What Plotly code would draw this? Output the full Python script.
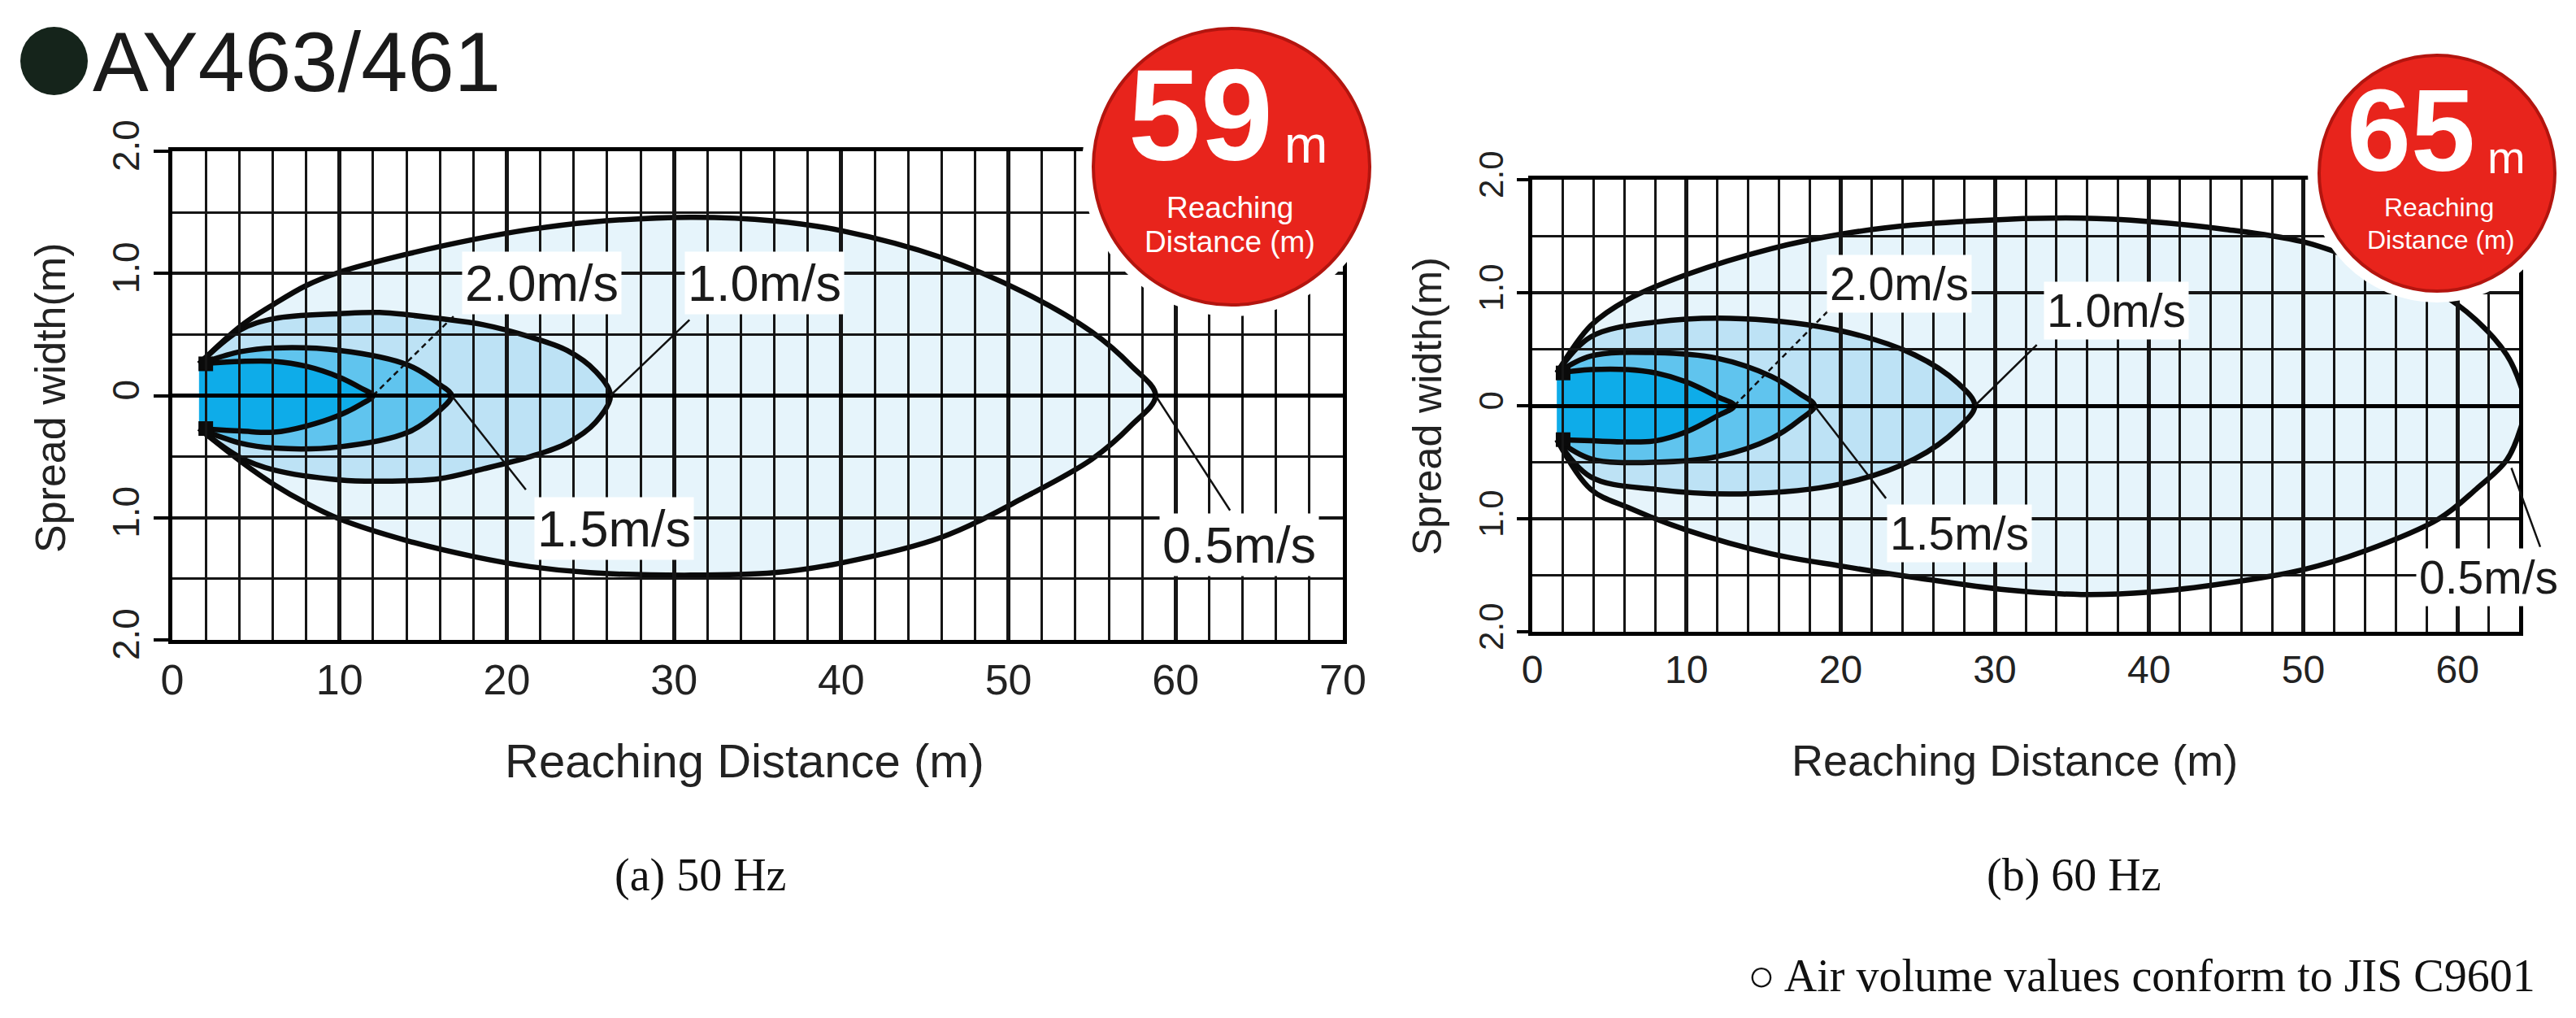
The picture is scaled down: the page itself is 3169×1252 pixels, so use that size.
import plotly.graph_objects as go

W, H = 3169, 1252
SANS = "Liberation Sans, Arial, sans-serif"
SERIF = "Liberation Serif, Times New Roman, serif"

# ---------------- data ----------------
speeds = ["2.0m/s", "1.5m/s", "1.0m/s", "0.5m/s"]
fill_colors = ["#0eace9", "#60c4ee", "#bde2f5", "#e6f4fb"]
reach = [59, 65]

# (a) 50 Hz : x positions, upper edge, lower edge of each velocity contour
hz50_x_20 = [1.6, 4.1, 6.1, 8.0, 10.0, 11.3, 12.0]
hz50_up_20 = [0.26, 0.28, 0.28, 0.24, 0.15, 0.06, 0.0]
hz50_lo_20 = [-0.27, -0.29, -0.30, -0.25, -0.16, -0.07, 0.0]

hz50_x_15 = [1.6, 4.1, 6.1, 10.0, 14.1, 16.0, 16.7]
hz50_up_15 = [0.26, 0.36, 0.39, 0.37, 0.25, 0.09, 0.0]
hz50_lo_15 = [-0.27, -0.39, -0.43, -0.42, -0.30, -0.12, 0.0]

hz50_x_10 = [1.6, 4.1, 6.1, 10.0, 12.4, 16.0, 18.6, 21.4, 23.6, 25.3, 26.2]
hz50_up_10 = [0.26, 0.54, 0.63, 0.67, 0.68, 0.63, 0.58, 0.48, 0.37, 0.20, 0.0]
hz50_lo_10 = [-0.27, -0.51, -0.61, -0.69, -0.70, -0.68, -0.60, -0.50, -0.39, -0.22, 0.0]

hz50_x_05 = [1.6, 4.1, 6.1, 8.0, 10.0, 14.1, 18.1, 21.4, 25.0, 31.0, 36.0, 40.0, 46.0, 51.0, 55.0, 57.3, 58.8]
hz50_up_05 = [0.26, 0.57, 0.75, 0.90, 1.01, 1.16, 1.28, 1.36, 1.42, 1.46, 1.43, 1.35, 1.13, 0.84, 0.52, 0.25, 0.0]
hz50_lo_05 = [-0.27, -0.54, -0.73, -0.88, -1.01, -1.19, -1.32, -1.40, -1.45, -1.47, -1.45, -1.37, -1.16, -0.83, -0.52, -0.25, 0.0]

# (b) 60 Hz
hz60_x_20 = [1.6, 3.8, 6.2, 8.0, 10.0, 12.0, 13.1]
hz60_up_20 = [0.29, 0.32, 0.32, 0.29, 0.21, 0.08, 0.0]
hz60_lo_20 = [-0.30, -0.31, -0.32, -0.31, -0.23, -0.09, 0.0]

hz60_x_15 = [1.6, 3.8, 8.0, 12.0, 15.5, 17.3, 18.3]
hz60_up_15 = [0.29, 0.44, 0.47, 0.42, 0.26, 0.11, 0.0]
hz60_lo_15 = [-0.30, -0.47, -0.50, -0.45, -0.29, -0.13, 0.0]

hz60_x_10 = [1.6, 3.8, 8.0, 13.6, 20.1, 24.8, 27.6, 28.7]
hz60_up_10 = [0.29, 0.61, 0.74, 0.77, 0.66, 0.45, 0.20, 0.0]
hz60_lo_10 = [-0.30, -0.63, -0.74, -0.78, -0.69, -0.47, -0.20, 0.0]

hz60_x_05 = [1.6, 3.8, 6.2, 10.0, 15.5, 20.1, 24.8, 30.8, 35.6, 40.0, 45.0, 50.0, 53.9, 58.8, 61.2, 63.2, 64.1, 64.4]
hz60_up_05 = [0.29, 0.71, 0.94, 1.16, 1.39, 1.52, 1.60, 1.65, 1.66, 1.63, 1.56, 1.45, 1.27, 1.00, 0.76, 0.45, 0.18, 0.0]
hz60_lo_05 = [-0.30, -0.74, -0.90, -1.10, -1.31, -1.42, -1.52, -1.63, -1.67, -1.65, -1.57, -1.45, -1.29, -1.00, -0.74, -0.48, -0.20, 0.0]

# speed labels and their leader lines (tip -> label corner), order as speeds
hz50_lab_x = [22.1, 26.4, 35.4, 63.8]
hz50_lab_y = [0.92, -1.09, 0.92, -1.22]
hz50_lead_x0 = [12.0, 16.7, 26.2, 58.8]
hz50_lead_y0 = [0.0, 0.0, 0.0, 0.0]
hz50_lead_x1 = [16.9, 21.2, 31.0, 63.3]
hz50_lead_y1 = [0.66, -0.78, 0.63, -0.95]

hz60_lab_x = [23.8, 27.7, 37.9, 62.0]
hz60_lab_y = [1.08, -1.13, 0.84, -1.52]
hz60_lead_x0 = [13.1, 18.3, 28.7, 63.5]
hz60_lead_y0 = [0.0, 0.0, 0.0, -0.55]
hz60_lead_x1 = [19.2, 23.0, 32.8, 65.4]
hz60_lead_y1 = [0.84, -0.83, 0.55, -1.26]

x_ticks_50 = [0, 10, 20, 30, 40, 50, 60, 70]
x_ticks_60 = [0, 10, 20, 30, 40, 50, 60]
y_tickvals = [-2, -1, 0, 1, 2]
y_ticktext = ["2.0", "1.0", "0", "1.0", "2.0"]

panels = [
    dict(contours=[(hz50_x_20, hz50_up_20, hz50_lo_20), (hz50_x_15, hz50_up_15, hz50_lo_15),
                   (hz50_x_10, hz50_up_10, hz50_lo_10), (hz50_x_05, hz50_up_05, hz50_lo_05)],
         lab=(hz50_lab_x, hz50_lab_y), lead=(hz50_lead_x0, hz50_lead_y0, hz50_lead_x1, hz50_lead_y1),
         xticks=x_ticks_50, xrange=[0, 70], box=(212, 1652, 186, 787),
         tickfont=52, ytickfont=46, labfont=63, ticklen=18,
         xtitle=(916, 935, 58), ytitle=(62, 490, 52), caption="(a) 50 Hz", cap_x=861,
         badge=dict(cx=1515, cy=205, r=170, num=(1477, 140, 160), m=(1606, 178, 64),
                    l1=(1513, 255, 37), l2=(1513, 297, 37))),
    dict(contours=[(hz60_x_20, hz60_up_20, hz60_lo_20), (hz60_x_15, hz60_up_15, hz60_lo_15),
                   (hz60_x_10, hz60_up_10, hz60_lo_10), (hz60_x_05, hz60_up_05, hz60_lo_05)],
         lab=(hz60_lab_x, hz60_lab_y), lead=(hz60_lead_x0, hz60_lead_y0, hz60_lead_x1, hz60_lead_y1),
         xticks=x_ticks_60, xrange=[0, 64], box=(1885, 3099, 221, 777),
         tickfont=48, ytickfont=42, labfont=57, ticklen=14,
         xtitle=(2478, 935, 54), ytitle=(1756, 500, 50), caption="(b) 60 Hz", cap_x=2551,
         badge=dict(cx=2998, cy=213, r=145, num=(2966, 160, 142), m=(3083, 194, 56),
                    l1=(3000, 255, 32), l2=(3002, 295, 32))),
]


def px(x):
    return x / W


def py(y):
    return 1 - y / H


fig = go.Figure()
layout = dict(width=W, height=H, margin=dict(l=0, r=0, t=0, b=0, pad=0, autoexpand=False),
              paper_bgcolor="white", plot_bgcolor="rgba(0,0,0,0)", showlegend=False)
annotations = []
shapes = []


def paper_text(x, y, text, size, family=SANS, color="#222", xanchor="center", **kw):
    annotations.append(dict(xref="paper", yref="paper", x=px(x), y=py(y), text=text,
                            showarrow=False, xanchor=xanchor, yanchor="middle",
                            font=dict(family=family, size=size, color=color), **kw))


for k, p in enumerate(panels):
    dn = 2 * k + 1          # data subplot
    gn = 2 * k + 2          # grid subplot drawn on top of the fills
    xd, yd = ("x" if dn == 1 else f"x{dn}"), ("y" if dn == 1 else f"y{dn}")
    xg, yg = f"x{gn}", f"y{gn}"
    x0, x1, y0, y1 = p["box"]
    domx = [px(x0), px(x1)]
    domy = [py(y1), py(y0)]

    # fills: outer contour first
    for (xs, up, lo), col in reversed(list(zip(p["contours"], fill_colors))):
        fig.add_trace(go.Scatter(x=xs + xs[-2::-1], y=up + lo[-2::-1], mode="lines",
                                 fill="toself", fillcolor=col, line=dict(width=0, shape="spline"),
                                 hoverinfo="skip", xaxis=xd, yaxis=yd))
    # outlines
    for xs, up, lo in p["contours"]:
        fig.add_trace(go.Scatter(x=xs + xs[-2::-1], y=up + lo[-2::-1], mode="lines",
                                 line=dict(color="#0a0a0a", width=6.5, shape="spline"),
                                 hoverinfo="skip", xaxis=xd, yaxis=yd))
    # nozzle blobs
    noz = p["contours"][0]
    fig.add_trace(go.Scatter(x=[noz[0][0] + 0.4] * 2, y=[noz[1][0], noz[2][0]], mode="markers",
                             marker=dict(symbol="square", size=18, color="#0a0a0a"),
                             hoverinfo="skip", xaxis=xd, yaxis=yd))
    # dashed leader for 2.0 m/s
    lx0, ly0, lx1, ly1 = p["lead"]
    fig.add_trace(go.Scatter(x=[lx0[0], lx1[0]], y=[ly0[0], ly1[0]], mode="lines",
                             line=dict(color="#111", width=2.5, dash="7px,5px"),
                             hoverinfo="skip", xaxis=xd, yaxis=yd))
    # empty trace so the grid subplot exists
    fig.add_trace(go.Scatter(x=[None], y=[None], mode="markers", hoverinfo="skip",
                             xaxis=xg, yaxis=yg))

    key_xd = "xaxis" if dn == 1 else f"xaxis{dn}"
    key_yd = "yaxis" if dn == 1 else f"yaxis{dn}"
    layout[key_xd] = dict(domain=domx, range=p["xrange"], visible=False, anchor=yd, automargin=False)
    layout[key_yd] = dict(domain=domy, range=[-2, 2], visible=False, anchor=xd, automargin=False)
    layout[f"xaxis{gn}"] = dict(
        domain=domx, range=p["xrange"], anchor=yg, tickvals=p["xticks"], automargin=False,
        showgrid=True, gridcolor="#151515", gridwidth=4.5,
        minor=dict(dtick=2, tick0=0, showgrid=True, gridcolor="#151515", gridwidth=3),
        showline=True, mirror=True, linecolor="#000", linewidth=5, zeroline=False,
        ticks="", tickfont=dict(family=SANS, size=p["tickfont"], color="#222"))
    layout[f"yaxis{gn}"] = dict(
        domain=domy, range=[-2, 2], anchor=xg, tickvals=y_tickvals, ticktext=y_ticktext,
        automargin=False,
        tickangle=-90, ticks="outside", ticklen=p["ticklen"], tickwidth=3.5, tickcolor="#000",
        showgrid=True, gridcolor="#151515", gridwidth=3.5,
        minor=dict(dtick=0.5, tick0=0, showgrid=True, gridcolor="#151515", gridwidth=3.2),
        zeroline=True, zerolinecolor="#000", zerolinewidth=5,
        showline=True, mirror=True, linecolor="#000", linewidth=5,
        tickfont=dict(family=SANS, size=p["ytickfont"], color="#222"))

    # solid leaders
    for i in range(1, 4):
        annotations.append(dict(xref=xd, yref=yd, axref=xd, ayref=yd, x=lx0[i], y=ly0[i],
                                ax=lx1[i], ay=ly1[i], text="", showarrow=True, arrowhead=0,
                                arrowwidth=2.5, arrowcolor="#111", standoff=0, startstandoff=0))
    # speed labels
    for t, lx, ly in zip(speeds, *p["lab"]):
        annotations.append(dict(xref=xd, yref=yd, x=lx, y=ly, text=t, showarrow=False,
                                bgcolor="white", borderpad=3, xanchor="center", yanchor="middle",
                                font=dict(family=SANS, size=p["labfont"], color="#1a1a1a")))
    # axis titles
    tx, ty, ts = p["xtitle"]
    paper_text(tx, ty, "Reaching Distance (m)", ts)
    tx, ty, ts = p["ytitle"]
    paper_text(tx, ty, "Spread width(m)", ts, textangle=-90)
    # caption
    paper_text(p["cap_x"], 1076, p["caption"], 56, family=SERIF, color="#111")

    # reaching-distance badge
    b = p["badge"]
    rw = b["r"] + 14
    shapes.append(dict(type="circle", xref="paper", yref="paper", layer="above",
                       x0=px(b["cx"] - rw), x1=px(b["cx"] + rw), y0=py(b["cy"] + rw), y1=py(b["cy"] - rw),
                       fillcolor="white", line=dict(width=0)))
    shapes.append(dict(type="circle", xref="paper", yref="paper", layer="above",
                       x0=px(b["cx"] - b["r"]), x1=px(b["cx"] + b["r"]),
                       y0=py(b["cy"] + b["r"]), y1=py(b["cy"] - b["r"]),
                       fillcolor="#e8241c", line=dict(color="#b3150f", width=4)))
    nx, ny, ns = b["num"]
    paper_text(nx, ny, f"<b>{reach[k]}</b>", ns, color="white")
    mx, my, ms = b["m"]
    paper_text(mx, my, "m", ms, color="white")
    for (lx, ly, ls), t in zip([b["l1"], b["l2"]], ["Reaching", "Distance (m)"]):
        paper_text(lx, ly, t, ls, color="white")

# header
shapes.append(dict(type="circle", xref="paper", yref="paper", x0=px(25), x1=px(108),
                   y0=py(117), y1=py(33), fillcolor="#15241b", line=dict(width=0)))
paper_text(112, 76, "AY463/461", 103, color="#1a1a1a", xanchor="left")
# footnote
paper_text(3121, 1200, "○ Air volume values conform to JIS C9601", 56, family=SERIF,
           color="#111", xanchor="right")

layout["annotations"] = annotations
layout["shapes"] = shapes
fig.update_layout(**layout)

fig.write_html("out.html", config={"displayModeBar": False},
               post_script="document.body.style.margin='0';document.body.style.overflow='hidden';")
